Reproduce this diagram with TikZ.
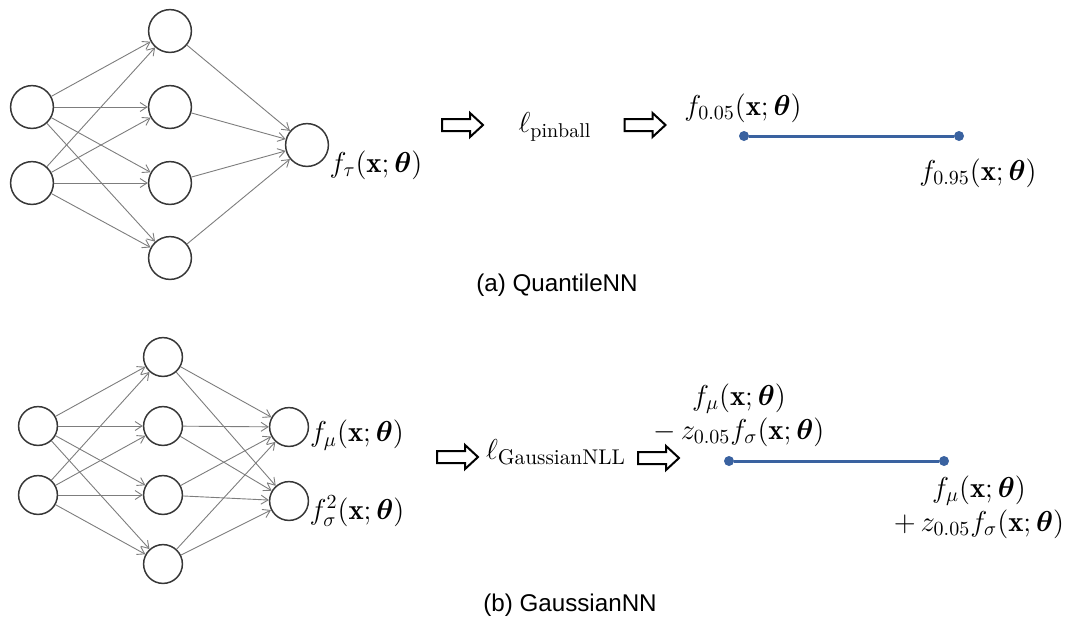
\documentclass[tikz,border=0pt]{standalone}
\usepackage{amsmath}
\usepackage{fontspec}
\newfontfamily\capfont{Liberation Sans}
\usetikzlibrary{arrows.meta}
\definecolor{edgegray}{RGB}{125,125,125}
\definecolor{nodegray}{RGB}{55,55,55}
\definecolor{intblue}{RGB}{58,98,160}
\begin{document}
\begin{tikzpicture}[x=0.5pt,y=-0.5pt,
  neuronA/.style={circle,draw=nodegray,line width=0.75pt,minimum size=21.4pt,inner sep=0},
  neuronB/.style={circle,draw=nodegray,line width=0.75pt,minimum size=19.4pt,inner sep=0},
  conn/.style={draw=edgegray,line width=0.45pt,-{Straight Barb[length=3.5pt,width=4.5pt]}},
  hollow/.style={draw=black,line width=1pt,fill=white,line join=miter},
  mathlbl/.style={inner sep=0,font=\fontsize{14.4}{17}\selectfont,align=center},
  caplbl/.style={inner sep=0,font=\capfont\fontsize{12.1}{14}\selectfont},
  dot/.style={circle,fill=intblue,inner sep=0,minimum size=5pt},
  interval/.style={draw=intblue,line width=1.5pt}
]
\useasboundingbox (0,0) rectangle (1068,617);

% ---------- (a) QuantileNN ----------
\node[neuronA] (ai1) at (32,107) {};
\node[neuronA] (ai2) at (32,183) {};
\node[neuronA] (ah1) at (170,31) {};
\node[neuronA] (ah2) at (170,107) {};
\node[neuronA] (ah3) at (170,183) {};
\node[neuronA] (ah4) at (170,258) {};
\node[neuronA] (ao) at (307,145) {};
\foreach \i in {1,2}{\foreach \h in {1,2,3,4}{\draw[conn] (ai\i) -- (ah\h);}}
\foreach \h in {1,2,3,4}{\draw[conn] (ah\h) -- (ao);}
\node[mathlbl] (aolab) at (376,165) {$f_{\tau}(\mathbf{x};\boldsymbol{\theta})$};

\coordinate (aa1) at (462.5,125);
\coordinate (aa2) at (645,125);
\foreach \c in {aa1,aa2}{
  \draw[hollow,shift={(\c)}] (-20.5,-6) -- (7.5,-6) -- (7.5,-12) -- (20.5,0) -- (7.5,12) -- (7.5,6) -- (-20.5,6) -- cycle;}
\node[mathlbl] (aloss) at (555,127) {$\ell_{\mathrm{pinball}}$};

\node[dot] (al) at (744,136) {};
\node[dot] (ar) at (959,136) {};
\draw[interval] (al) -- (ar);
\node[mathlbl] (allab) at (743,108) {$f_{0.05}(\mathbf{x};\boldsymbol{\theta})$};
\node[mathlbl] (arlab) at (978,173) {$f_{0.95}(\mathbf{x};\boldsymbol{\theta})$};

\node[caplbl] (acap) at (557,285) {(a) QuantileNN};

% ---------- (b) GaussianNN ----------
\node[neuronB] (bi1) at (38,426) {};
\node[neuronB] (bi2) at (38,495) {};
\node[neuronB] (bh1) at (163,357) {};
\node[neuronB] (bh2) at (163,426) {};
\node[neuronB] (bh3) at (163,495) {};
\node[neuronB] (bh4) at (163,564) {};
\node[neuronB] (bo1) at (289,427) {};
\node[neuronB] (bo2) at (289,501) {};
\foreach \i in {1,2}{\foreach \h in {1,2,3,4}{\draw[conn] (bi\i) -- (bh\h);}}
\foreach \h in {1,2,3,4}{\foreach \o in {1,2}{\draw[conn] (bh\h) -- (bo\o);}}
\node[mathlbl] (bo1lab) at (357,435) {$f_{\mu}(\mathbf{x};\boldsymbol{\theta})$};
\node[mathlbl] (bo2lab) at (357,511) {$f^2_{\sigma}(\mathbf{x};\boldsymbol{\theta})$};

\coordinate (ba1) at (457.5,457);
\coordinate (ba2) at (658.5,458);
\foreach \c in {ba1,ba2}{
  \draw[hollow,shift={(\c)}] (-20.5,-6) -- (7.5,-6) -- (7.5,-12) -- (20.5,0) -- (7.5,12) -- (7.5,6) -- (-20.5,6) -- cycle;}
\node[mathlbl,font=\fontsize{15.2}{17}\selectfont] (bloss) at (556,452) {$\ell_{\mathrm{GaussianNLL}}$};

\node[dot] (bl) at (729,461) {};
\node[dot] (br) at (944,461) {};
\draw[interval] (bl) -- (br);
\node[mathlbl] (bllab) at (739,415) {$f_{\mu}(\mathbf{x};\boldsymbol{\theta})$\\$-\,z_{0.05}f_{\sigma}(\mathbf{x};\boldsymbol{\theta})$};
\node[mathlbl] (brlab) at (979,507) {$f_{\mu}(\mathbf{x};\boldsymbol{\theta})$\\$+\,z_{0.05}f_{\sigma}(\mathbf{x};\boldsymbol{\theta})$};

\node[caplbl] (bcap) at (570,605) {(b) GaussianNN};
\end{tikzpicture}
\end{document}
